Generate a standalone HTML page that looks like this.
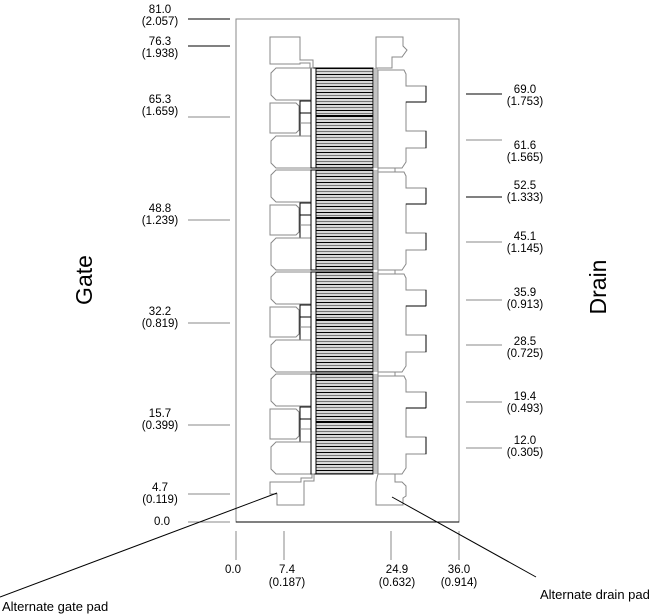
<!DOCTYPE html>
<html><head><style>
html,body{margin:0;padding:0;background:#fff;}
svg{display:block;font-family:"Liberation Sans",Arial,sans-serif;}
</style></head><body>
<svg width="670" height="616" viewBox="0 0 670 616" xmlns="http://www.w3.org/2000/svg">
<defs>
<pattern id="fing" width="10" height="6" patternUnits="userSpaceOnUse">
<rect width="10" height="6" fill="#d8d8d8"/>
<rect width="10" height="1" fill="#000"/>
<rect y="3" width="10" height="1" fill="#777"/>
</pattern>
<g id="cell">
<path d="M276,0 L311,0 L311,32 L276,32 L271,27 L271,5 Z" fill="#fff" stroke="#888"/>
<path d="M270,35 L296,35 L299,38 L299,62 L296,65 L270,65 Z" fill="#fff" stroke="#888"/>
<rect x="300" y="33" width="11" height="36" fill="none" stroke="#000"/>
<line x1="300" y1="45" x2="311" y2="45" stroke="#000"/>
<line x1="300" y1="55" x2="311" y2="55" stroke="#888"/>
<path d="M276,68 L311,68 L311,100 L276,100 L271,95 L271,73 Z" fill="#fff" stroke="#888"/>
<rect x="311" y="0" width="5" height="100" fill="#fff" stroke="#000"/>
<rect x="316" y="0" width="57" height="100" fill="url(#fing)" stroke="#000"/>
<line x1="316" y1="48" x2="373" y2="48" stroke="#000" stroke-width="2"/>
<rect x="373" y="0" width="5" height="100" fill="#888" opacity="0.5"/>
<path d="M378,2 L404,2 L406,6 L406,18 L426,18 L426,34 L406,34 L406,63 L426,63 L426,80 L406,80 L406,94 L402,100 L378,100 Z" fill="#fff" stroke="#888"/>
<line x1="426" y1="18" x2="426" y2="34" stroke="#000"/>
<line x1="406" y1="34" x2="426" y2="34" stroke="#000"/>
<line x1="426" y1="63" x2="426" y2="80" stroke="#000"/>
</g>
</defs>
<rect x="236" y="19" width="223" height="503" fill="#fff" stroke="#888"/>
<line x1="236" y1="522" x2="459" y2="522" stroke="#000"/>
<use href="#cell" y="68"/>
<use href="#cell" y="170"/>
<use href="#cell" y="272"/>
<use href="#cell" y="374"/>
<rect x="378" y="168" width="17" height="4" fill="none" stroke="#888"/>
<rect x="378" y="270" width="17" height="4" fill="none" stroke="#888"/>
<rect x="378" y="372" width="17" height="4" fill="none" stroke="#888"/>
<path d="M270,37 L300,37 L300,60 L313,60 L313,68 L310,68 L310,63 L300,63 L300,64 L270,64 Z" fill="#fff" stroke="#888"/>
<path d="M376,37 L403,37 L403,46 L407,50 L402,57 L392,57 L392,68 L376,68 Z" fill="#fff" stroke="#888"/>
<path d="M270,482 L301,482 L301,478 L312,478 L312,474 L314,474 L314,481 L304,481 L304,505 L277,505 L277,494 L270,494 Z" fill="#fff" stroke="#888"/>
<path d="M378,474 L395,474 L395,482 L402,482 L406,486 L406,496 L403,498 L403,505 L376,505 L376,482 Z" fill="#fff" stroke="#888"/>
<g stroke="#888">
<line x1="188" y1="19" x2="230" y2="19" stroke="#000"/>
<line x1="188" y1="46" x2="230" y2="46" stroke="#000"/>
<line x1="188" y1="117" x2="230" y2="117"/>
<line x1="188" y1="220" x2="230" y2="220"/>
<line x1="188" y1="323" x2="230" y2="323"/>
<line x1="188" y1="425" x2="230" y2="425"/>
<line x1="188" y1="494" x2="230" y2="494"/>
<line x1="188" y1="522" x2="230" y2="522"/>
<line x1="466" y1="94" x2="502" y2="94" stroke="#000"/>
<line x1="466" y1="140" x2="502" y2="140"/>
<line x1="466" y1="197" x2="502" y2="197" stroke="#000"/>
<line x1="466" y1="242" x2="502" y2="242"/>
<line x1="466" y1="300" x2="502" y2="300"/>
<line x1="466" y1="345" x2="502" y2="345"/>
<line x1="466" y1="402" x2="502" y2="402"/>
<line x1="466" y1="448" x2="502" y2="448"/>
<line x1="236" y1="531" x2="236" y2="560"/>
<line x1="284" y1="531" x2="284" y2="560"/>
<line x1="391" y1="531" x2="391" y2="560"/>
<line x1="459" y1="531" x2="459" y2="560"/>
</g>
<g font-size="11.5" fill="#000" text-anchor="middle">
<text x="160" y="13">81.0</text><text x="160" y="25">(2.057)</text>
<text x="160" y="45">76.3</text><text x="160" y="57">(1.938)</text>
<text x="160" y="103">65.3</text><text x="160" y="115">(1.659)</text>
<text x="160" y="212">48.8</text><text x="160" y="224">(1.239)</text>
<text x="160" y="315">32.2</text><text x="160" y="327">(0.819)</text>
<text x="160" y="417">15.7</text><text x="160" y="429">(0.399)</text>
<text x="160" y="491">4.7</text><text x="160" y="503">(0.119)</text>
<text x="162" y="525">0.0</text>
<text x="525" y="93">69.0</text><text x="525" y="105">(1.753)</text>
<text x="525" y="149">61.6</text><text x="525" y="161">(1.565)</text>
<text x="525" y="189">52.5</text><text x="525" y="201">(1.333)</text>
<text x="525" y="240">45.1</text><text x="525" y="252">(1.145)</text>
<text x="525" y="296">35.9</text><text x="525" y="308">(0.913)</text>
<text x="525" y="345">28.5</text><text x="525" y="357">(0.725)</text>
<text x="525" y="400">19.4</text><text x="525" y="412">(0.493)</text>
<text x="525" y="444">12.0</text><text x="525" y="456">(0.305)</text>
<text x="233" y="573">0.0</text>
<text x="287" y="573">7.4</text><text x="287" y="586">(0.187)</text>
<text x="397" y="573">24.9</text><text x="397" y="586">(0.632)</text>
<text x="459" y="573">36.0</text><text x="459" y="586">(0.914)</text>
</g>
<line x1="277" y1="493" x2="0" y2="597" stroke="#000"/>
<line x1="392" y1="497" x2="536" y2="577" stroke="#000"/>
<text x="2" y="611" font-size="13">Alternate gate pad</text>
<text x="540" y="599" font-size="13">Alternate drain pad</text>
<text transform="translate(92,280) rotate(-90)" font-size="23" text-anchor="middle">Gate</text>
<text transform="translate(606,287) rotate(-90)" font-size="23" text-anchor="middle">Drain</text>
</svg>
</body></html>
